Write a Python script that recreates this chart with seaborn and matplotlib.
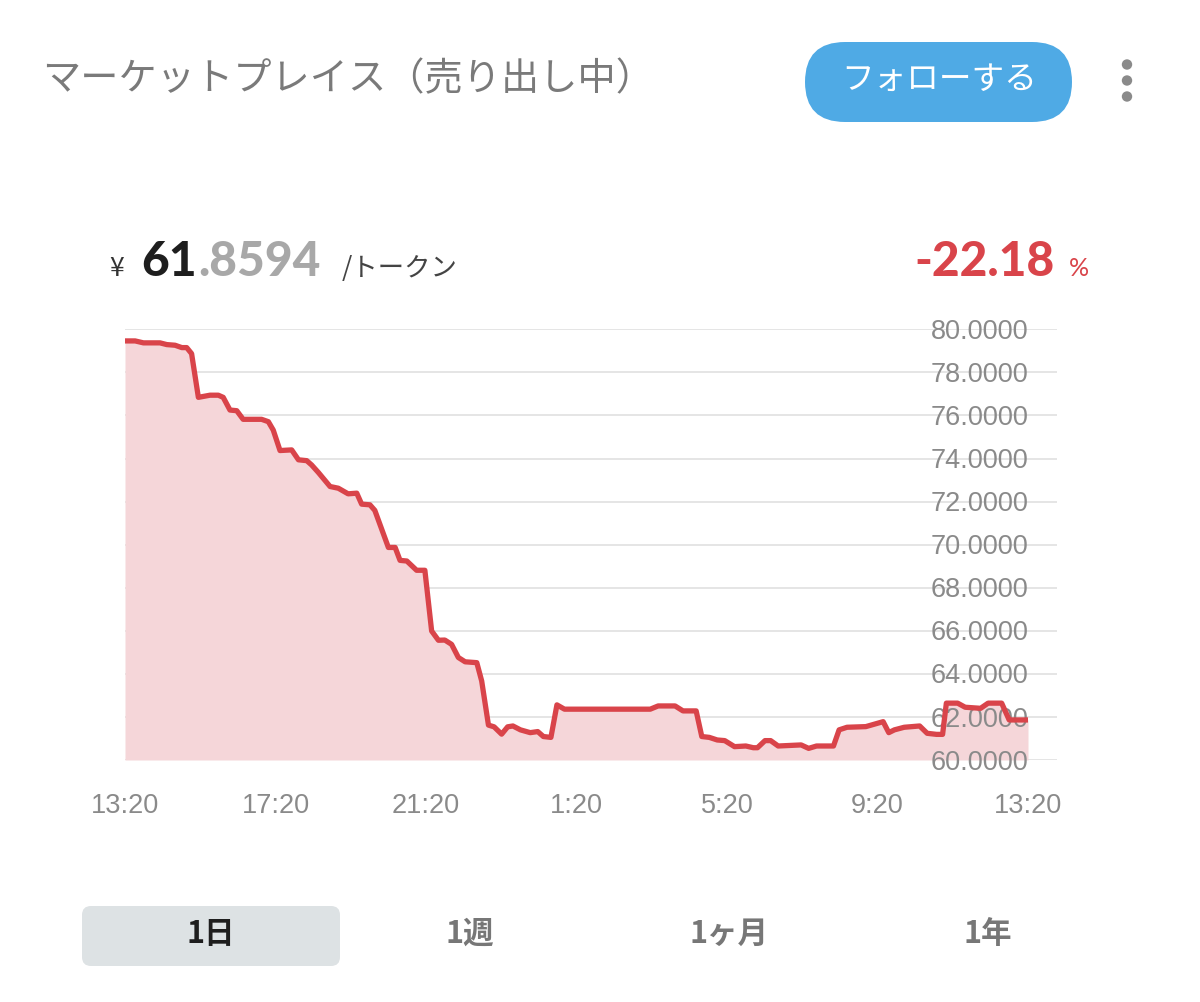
import numpy as np
import pandas as pd
import matplotlib
matplotlib.use("Agg")
import matplotlib.pyplot as plt
import matplotlib.transforms as mtransforms
import seaborn as sns
from matplotlib.patches import FancyBboxPatch, Circle

# ---------------- data ----------------
hours = [0.00, 0.27, 0.49, 0.93, 1.11, 1.33, 1.51, 1.64, 1.77, 1.95,
         2.26, 2.48, 2.61, 2.79, 2.97, 3.14, 3.63, 3.81, 3.94, 4.12,
         4.43, 4.61, 4.83, 4.96, 5.14, 5.45, 5.67, 5.93, 6.16, 6.29,
         6.51, 6.64, 7.00, 7.18, 7.31, 7.49, 7.75, 7.97, 8.15, 8.33,
         8.50, 8.68, 8.86, 9.04, 9.35, 9.48, 9.66, 9.81, 10.01, 10.17,
         10.31, 10.51, 10.77, 10.97, 11.12, 11.32, 11.48, 11.68, 13.96, 14.17,
         14.62, 14.83, 15.18, 15.33, 15.53, 15.74, 15.94, 16.20, 16.50, 16.70,
         16.81, 17.01, 17.16, 17.36, 17.97, 18.17, 18.38, 18.83, 18.98, 19.19,
         19.69, 19.85, 20.15, 20.30, 20.45, 20.71, 21.12, 21.32, 21.57, 21.73,
         21.83, 22.13, 22.33, 22.74, 22.94, 23.30, 23.50, 24.00]
prices = [79.46, 79.46, 79.37, 79.37, 79.29, 79.26, 79.15, 79.15, 78.87, 76.84,
          76.94, 76.94, 76.84, 76.25, 76.22, 75.82, 75.82, 75.71, 75.32, 74.37,
          74.40, 73.94, 73.90, 73.70, 73.35, 72.70, 72.62, 72.36, 72.39, 71.88,
          71.85, 71.59, 69.87, 69.87, 69.27, 69.24, 68.81, 68.81, 65.99, 65.56,
          65.57, 65.37, 64.76, 64.56, 64.52, 63.67, 61.62, 61.54, 61.20, 61.54,
          61.58, 61.40, 61.27, 61.32, 61.09, 61.05, 62.56, 62.36, 62.36, 62.51,
          62.51, 62.28, 62.28, 61.09, 61.05, 60.93, 60.90, 60.62, 60.65, 60.57,
          60.57, 60.90, 60.90, 60.65, 60.70, 60.54, 60.65, 60.65, 61.40, 61.52,
          61.55, 61.63, 61.78, 61.27, 61.40, 61.52, 61.58, 61.24, 61.19, 61.19,
          62.64, 62.64, 62.45, 62.40, 62.64, 62.64, 61.86, 61.86]
x_tick_hours = [0, 4, 8, 12, 16, 20, 24]
x_tick_labels = ["13:20", "17:20", "21:20", "1:20", "5:20", "9:20", "13:20"]
y_ticks = [60, 62, 64, 66, 68, 70, 72, 74, 76, 78, 80]

title_text = "マーケットプレイス（売り出し中）"
follow_text = "フォローする"
price_int = "61"
price_dec = ".8594"
unit_text = "/トークン"
change_text = "-22.18"
period_labels = ["1日", "1週", "1ヶ月", "1年"]

df = pd.DataFrame({"hour": hours, "price": prices})

# ---------------- style ----------------
sns.set_theme(style="white")
plt.rcParams["font.family"] = ["Liberation Sans", "Noto Sans CJK JP", "DejaVu Sans"]

W, H = 1200, 1002
fig = plt.figure(figsize=(W / 100, H / 100), dpi=100)
fig.patch.set_facecolor("white")

# overlay axes in pixel coordinates for UI elements
ui = fig.add_axes([0, 0, 1, 1], zorder=0)
ui.set_xlim(0, W)
ui.set_ylim(H, 0)
ui.axis("off")

LINE = "#D9444A"
FILL = "#F5D6D9"
GRID = "#E0E0E0"
TICK = "#8A8A8A"
JP = ["Noto Sans CJK JP", "DejaVu Sans"]
LATO = ["Lato", "DejaVu Sans"]

# header
ui.text(42, 80, title_text, fontsize=27.5, color="#7A7A7A", family=JP,
        ha="left", va="center")
ui.add_patch(FancyBboxPatch((805, 42), 267, 80, boxstyle="round,pad=0,rounding_size=40",
                            facecolor="#4FAAE5", edgecolor="none", zorder=1))
ui.text(939, 80, follow_text, fontsize=23.5, color="white", family=JP,
        ha="center", va="center", zorder=2)
for cy in (64.5, 80.5, 96.5):
    ui.add_patch(Circle((1127, cy), 5.2, facecolor="#8A8A8A", edgecolor="none"))

# price line
ui.text(109, 276, "¥", fontsize=19, color="#333333", family=JP,
        ha="left", va="baseline")
t_int = ui.text(141, 276, price_int, fontsize=34.5, color="#1E1E1E",
                family=LATO, fontweight="black", ha="left", va="baseline")
fig.canvas.draw()
r = fig.canvas.get_renderer()
bb = t_int.get_window_extent(r)
ui.text(bb.x1 + 2, 276, price_dec, fontsize=34.5, color="#A8A8A8",
        family=LATO, fontweight="black", ha="left", va="baseline")
ui.text(342, 276, unit_text, fontsize=19, color="#444444", family=JP,
        ha="left", va="baseline")
ui.text(1055, 276, change_text, fontsize=34.5, color=LINE,
        family=LATO, fontweight="black", ha="right", va="baseline")
ui.text(1069, 276, "%", fontsize=18, color=LINE, family=LATO,
        fontweight="normal", ha="left", va="baseline")

# bottom period tabs
ui.add_patch(FancyBboxPatch((82, 906), 258, 60, boxstyle="round,pad=0,rounding_size=9",
                            facecolor="#DDE2E4", edgecolor="none"))
tab_x = [211, 470, 729, 988]
for i, (lab, tx) in enumerate(zip(period_labels, tab_x)):
    ui.text(tx, 934, lab, fontsize=22, fontweight="bold",
            color="#1E1E1E" if i == 0 else "#777777",
            family=JP, ha="center", va="center")

# ---------------- chart ----------------
left_px, right_px = 125, 1057
top_px, bot_px = 329.3, 760
ax = fig.add_axes([left_px / W, 1 - bot_px / H, (right_px - left_px) / W,
                   (bot_px - top_px) / H], zorder=2)
ax.patch.set_alpha(0)
x_max = 24 * (right_px - left_px) / (1028 - left_px)
ax.set_xlim(0, x_max)
ax.set_ylim(60, 80)

for v in y_ticks:
    ax.axhline(v, color=GRID, lw=1.2, zorder=0)
ax.fill_between(df["hour"], df["price"], 60, color=FILL, lw=0, zorder=1)
lbl_tr = mtransforms.offset_copy(ax.transData, fig=fig, y=-9.6 * 0.72, units="points")
for v in y_ticks:
    ax.text(24, v, f"{v:.4f}", ha="right", va="baseline", fontsize=19.5,
            color=TICK, zorder=2, transform=lbl_tr)
sns.lineplot(data=df, x="hour", y="price", ax=ax, color=LINE, lw=3.8,
             zorder=3, solid_joinstyle="round", solid_capstyle="butt")

ax.set_xticks(x_tick_hours)
ax.set_xticklabels(x_tick_labels, fontsize=19.5, color=TICK)
ax.set_yticks([])
ax.tick_params(axis="x", length=0, pad=24)
ax.set_xlabel("")
ax.set_ylabel("")
for s in ax.spines.values():
    s.set_visible(False)

fig.savefig("out.png", dpi=100, facecolor="white")
